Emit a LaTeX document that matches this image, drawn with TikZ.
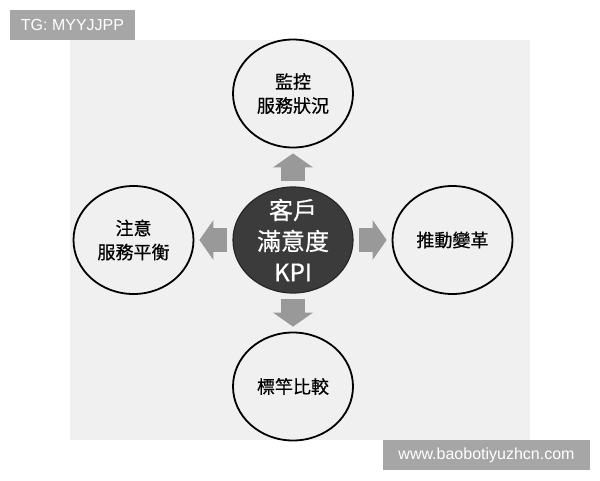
\documentclass[tikz,border=0pt]{standalone}
\usepackage{fontspec}
\setmainfont{Noto Sans CJK TC}[BoldFont=Noto Sans CJK TC, BoldFeatures={FakeBold=0.6}]
\newfontfamily\markfont{Liberation Sans}
\usepackage{tikz}
\usetikzlibrary{
    positioning,      % For placing the outer ellipses around the hub
    shapes.geometric, % For the ellipse shape
    arrows.meta       % For the wide block arrow tips
}

\begin{document}
\begin{tikzpicture}[
    x=1pt, y=-1pt,
    % Global style settings
    node distance=38pt,
    % Style for the outer ellipses
    topic_style/.style={
        ellipse,
        draw=black,
        line width=1.8pt,
        fill=black!6,
        minimum width=120pt,
        minimum height=108pt,
        align=center,
        font=\bfseries\fontsize{18}{24}\selectfont
    },
    % Style for the dark centre ellipse
    hub_style/.style={
        ellipse,
        draw=black!85,
        line width=1.2pt,
        fill=black!77,
        minimum width=120pt,
        minimum height=106pt
    },
    % Style for the centre text
    hub_text/.style={
        text=white,
        align=center,
        font=\bfseries\fontsize{24}{31}\selectfont
    },
    % Style for the grey block arrows
    block_arrow/.style={
        draw=black!40,
        line width=24pt,
        shorten <=5pt, shorten >=5pt,
        -{Triangle[length=14pt, width=40pt, line width=0pt]}
    },
    % Style for the watermark boxes
    mark_style/.style={
        fill=black!35,
        text=white,
        font=\markfont\fontsize{16}{18}\selectfont,
        minimum height=30pt
    }
]
    % 0. Canvas and the light backdrop
    \useasboundingbox[fill=white] (0,0) rectangle (600,480);
    \fill[black!6] (70,40) rectangle (530,440);

    % 1. The centre ellipse, with the outer ones placed around it
    \node[hub_style, label={[hub_text]center:客戶\\滿意度\\KPI}] (kpi_hub) at (293,240) {};
    \node[topic_style, above=of kpi_hub] (monitor_service) {監控\\服務狀況};
    \node[topic_style, left=of kpi_hub] (service_balance) {注意\\服務平衡};
    \node[topic_style, right=of kpi_hub] (drive_change) {推動變革};
    \node[topic_style, below=of kpi_hub] (benchmark) {標竿比較};

    % 2. Block arrows from the hub outwards
    \draw[block_arrow] (kpi_hub) -- (monitor_service);
    \draw[block_arrow] (kpi_hub) -- (service_balance);
    \draw[block_arrow] (kpi_hub) -- (drive_change);
    \draw[block_arrow] (kpi_hub) -- (benchmark);

    % 3. Watermark boxes in the corners
    \node[mark_style, minimum width=125pt] (mark_tag) at (72.5,25) {TG: MYYJJPP};
    \node[mark_style, minimum width=207pt] (mark_site) at (486.5,455) {www.baobotiyuzhcn.com};

\end{tikzpicture}
\end{document}
